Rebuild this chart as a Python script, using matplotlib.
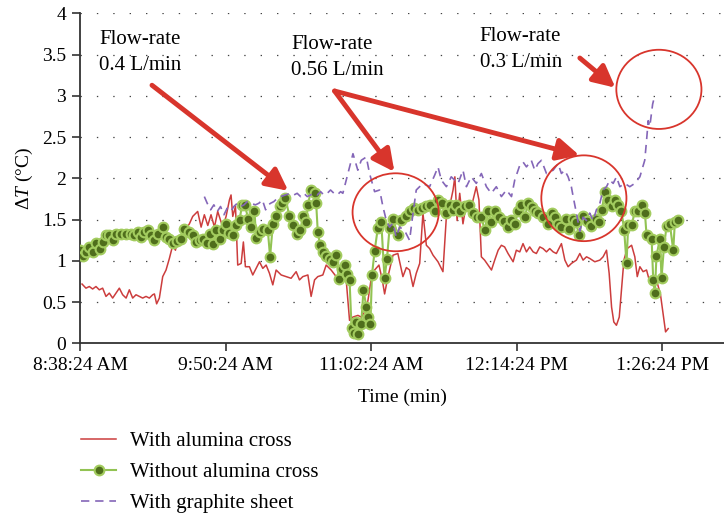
import matplotlib
matplotlib.use("Agg")
import matplotlib.pyplot as plt
from matplotlib.patches import Ellipse

# minutes after 8:38:24 AM
red_t = [1.0, 2.95, 4.6, 6.25, 7.9, 9.55, 11.2, 12.85, 14.5, 16.15, 17.8, 19.45, 21.1, 22.8,
         24.4, 26.05, 27.7, 29.35, 31.0, 32.65, 34.3, 35.95, 36.8, 37.9, 39.25, 40.9, 42.55,
         44.2, 45.85, 47.2, 48.3, 50.8, 54.1, 55.75, 58.2, 59.9, 61.5, 63.2, 64.8, 66.5, 68.1,
         70.6, 72.25, 73.9, 74.7, 75.55, 76.9, 78.0, 79.7, 80.8, 81.8, 83.8, 85.45, 87.1, 88.75,
         90.4, 92.05, 93.7, 95.35, 97.0, 99.5, 101.95, 104.4, 106.9, 108.55, 110.2, 112.7, 114.3,
         116.0, 117.6, 120.1, 121.75, 124.2, 126.7, 129.2, 131.65, 133.3, 135.0, 137.45, 139.1,
         140.75, 142.4, 144.05, 145.7, 147.85, 149.5, 150.65, 152.3, 154.8, 157.2, 159.7, 161.4,
         163.0, 164.7, 166.3, 168.0, 169.6, 171.3, 172.9, 174.6, 177.05, 179.5, 181.2, 182.8,
         184.5, 185.4, 186.5, 187.8, 189.4, 191.1, 192.7, 194.4, 196.0, 197.3, 198.5, 200.1,
         201.8, 203.5, 205.1, 206.8, 208.4, 210.0, 211.7, 214.2, 215.8, 217.5, 219.1, 220.8,
         222.4, 224.1, 225.7, 227.4, 229.0, 230.7, 232.3, 234.0, 235.6, 238.1, 239.8, 241.4,
         243.05, 245.5, 247.2, 248.8, 250.5, 252.1, 254.6, 257.1, 258.7, 260.4, 261.7, 262.9,
         264.0, 265.3, 266.7, 267.8, 269.0, 270.6, 272.8, 274.4, 275.6, 276.9, 278.5, 280.2,
         281.5, 283.2, 285.1, 287.1, 288.4, 289.6, 290.9]
red_v = [0.72, 0.67, 0.69, 0.66, 0.69, 0.65, 0.67, 0.57, 0.61, 0.55, 0.61, 0.67, 0.59, 0.55,
         0.65, 0.55, 0.59, 0.57, 0.55, 0.57, 0.55, 0.59, 0.60, 0.48, 0.55, 0.81, 0.89, 1.03,
         1.19, 1.13, 1.27, 1.33, 1.45, 1.54, 1.60, 1.41, 1.56, 1.43, 1.56, 1.41, 1.60, 1.41,
         1.54, 1.74, 1.80, 1.54, 1.66, 0.95, 0.97, 1.23, 0.93, 0.93, 0.83, 0.91, 0.99, 0.91,
         0.95, 0.85, 0.71, 0.89, 0.83, 0.81, 0.79, 0.87, 0.77, 0.81, 0.83, 0.57, 0.77, 0.81,
         0.83, 0.95, 0.89, 0.81, 0.81, 0.77, 0.28, 0.32, 0.34, 0.32, 0.38, 0.52, 0.79, 0.89,
         0.95, 0.77, 0.60, 0.81, 1.07, 1.09, 0.81, 0.92, 0.89, 0.69, 0.85, 0.97, 1.58, 1.19,
         1.15, 1.07, 0.99, 0.87, 1.54, 1.66, 1.86, 2.02, 1.49, 1.82, 1.45, 1.70, 1.54, 1.74,
         1.90, 1.74, 1.05, 1.01, 0.95, 0.89, 1.01, 1.13, 1.19, 1.17, 1.09, 0.99, 1.13, 1.11,
         1.21, 1.11, 1.17, 1.11, 1.09, 1.17, 1.15, 1.11, 1.15, 1.11, 1.09, 1.21, 1.01, 0.93,
         0.97, 1.01, 1.09, 1.01, 1.05, 1.03, 0.99, 1.01, 1.05, 1.13, 0.85, 0.44, 0.26, 0.22,
         0.32, 0.65, 1.01, 1.15, 1.19, 1.05, 0.81, 0.93, 0.87, 0.89, 0.77, 0.75, 0.77, 0.59,
         0.36, 0.14, 0.18]

green_t = [0.0, 1.3, 2.95, 4.6, 6.25, 7.9, 9.9, 11.2, 12.85, 14.5, 16.15, 17.8, 20.3, 22.8,
           25.2, 26.9, 28.5, 30.2, 31.8, 33.5, 35.1, 36.8, 38.4, 40.9, 42.6, 44.2, 45.9, 47.8,
           50.0, 51.6, 53.8, 55.8, 57.4, 59.4, 61.0, 62.7, 64.3, 65.7, 67.3, 69.0, 70.6, 72.3,
           73.9, 75.6, 77.2, 78.9, 80.2, 81.5, 83.2, 84.6, 86.3, 87.1, 88.8, 90.7, 92.9, 94.0,
           95.4, 97.0, 98.7, 100.0, 101.6, 103.6, 105.3, 107.2, 108.9, 110.5, 111.9, 112.7,
           114.3, 116.0, 116.8, 117.6, 118.8, 120.1, 121.8, 123.4, 125.1, 126.7, 128.0, 129.7,
           131.0, 132.0, 133.3, 134.3, 135.3, 136.3, 137.4, 139.1, 140.2, 141.6, 142.6, 143.6,
           144.4, 145.7, 147.3, 149.0, 150.6, 151.8, 153.1, 154.8, 157.2, 158.9, 161.0, 163.0,
           165.0, 167.1, 169.3, 171.3, 173.3, 175.4, 177.1, 179.2, 180.8, 182.8, 184.5, 186.1,
           188.1, 190.2, 192.4, 194.4, 196.4, 198.5, 200.2, 201.8, 203.4, 205.1, 207.2, 209.6,
           211.7, 213.4, 215.0, 216.7, 218.3, 220.0, 221.6, 223.3, 224.9, 226.6, 229.0, 231.5,
           233.2, 234.8, 236.5, 238.1, 240.2, 241.9, 243.6, 245.2, 246.9, 248.8, 250.5, 252.6,
           255.1, 256.8, 258.1, 259.6, 261.2, 262.9, 264.5, 266.2, 267.8, 269.1, 270.3, 271.1,
           272.8, 274.4, 276.1, 277.7, 279.4, 280.2, 282.7, 283.5, 284.3, 285.1, 286.8, 287.6,
           288.8, 290.1, 291.7, 293.4, 294.2, 295.9]
green_v = [1.13, 1.06, 1.11, 1.17, 1.11, 1.22, 1.15, 1.23, 1.31, 1.31, 1.25, 1.33, 1.33, 1.33,
           1.33, 1.31, 1.35, 1.29, 1.35, 1.37, 1.31, 1.25, 1.33, 1.41, 1.29, 1.26, 1.22, 1.24,
           1.27, 1.39, 1.35, 1.31, 1.23, 1.25, 1.27, 1.22, 1.33, 1.21, 1.38, 1.26, 1.37, 1.45,
           1.34, 1.31, 1.43, 1.50, 1.68, 1.68, 1.51, 1.41, 1.60, 1.28, 1.35, 1.39, 1.37, 1.05,
           1.45, 1.55, 1.66, 1.70, 1.76, 1.54, 1.43, 1.33, 1.37, 1.54, 1.47, 1.68,
           1.86, 1.82, 1.70, 1.35, 1.19, 1.11, 1.06, 1.02, 0.99, 1.07, 0.78, 0.90,
           0.95, 0.84, 0.77, 0.19, 0.13, 0.26, 0.11, 0.24, 0.65, 0.44, 0.32, 0.23,
           0.83, 1.12, 1.40, 1.47, 0.79, 1.02, 1.40, 1.51, 1.31, 1.50, 1.54, 1.60,
           1.64, 1.62, 1.64, 1.66, 1.68, 1.60, 1.74, 1.70, 1.58, 1.68, 1.62, 1.68,
           1.60, 1.66, 1.68, 1.58, 1.53, 1.53, 1.37, 1.60, 1.47, 1.60, 1.53, 1.49,
           1.41, 1.50, 1.45, 1.60, 1.68, 1.53, 1.70, 1.65, 1.60, 1.58, 1.53, 1.45,
           1.58, 1.53, 1.45, 1.41, 1.51, 1.39, 1.51, 1.47, 1.31, 1.55, 1.49, 1.42,
           1.51, 1.47, 1.62, 1.84, 1.74, 1.66, 1.74, 1.68, 1.60, 1.38, 0.97, 1.43,
           1.43, 1.60, 1.60, 1.68, 1.58, 1.31, 1.27, 0.77, 0.61, 1.06, 1.27, 0.79,
           1.17, 1.42, 1.45, 1.13, 1.47, 1.50]

purple_t = [61.5, 62.9, 64.6, 66.2, 67.9, 69.5, 71.2, 72.8, 74.5, 76.1, 77.8, 79.4, 81.1, 82.7,
            84.4, 86.8, 88.5, 90.2, 91.8, 93.1, 94.3, 95.9, 97.6, 99.2, 101.6, 104.1, 105.8,
            107.4, 109.1, 110.7, 112.4, 114.0, 115.7, 117.3, 119.0, 120.6, 122.3, 123.9, 125.6,
            127.2, 128.9, 130.0, 132.5, 135.0, 137.4, 139.1, 141.6, 143.2, 145.7, 148.2, 149.8,
            151.5, 153.1, 154.8, 156.4, 158.1, 160.5, 163.0, 164.7, 166.3, 169.6, 172.9, 175.4,
            177.05, 178.7, 181.2, 183.6, 187.0, 189.4, 191.1, 193.5, 196.0, 198.5, 201.0, 203.4,
            205.9, 208.4, 210.9, 213.4, 215.0, 217.5, 219.1, 220.8, 223.2, 224.9, 226.5, 228.2,
            230.7, 234.0, 236.4, 238.1, 239.7, 241.4, 243.0, 243.9, 245.5, 247.2, 248.8, 250.5,
            252.1, 253.8, 255.4, 257.1, 258.7, 260.4, 262.0, 263.7, 265.3, 267.0, 269.4, 271.9,
            274.4, 276.9, 279.3, 280.2, 281.0, 281.8, 283.2, 284.3]
purple_v = [1.78, 1.70, 1.62, 1.68, 1.60, 1.66, 1.56, 1.64, 1.60, 1.66, 1.70, 1.66, 1.68, 1.72,
            1.70, 1.68, 1.70, 1.74, 1.62, 1.68, 1.70, 1.72, 1.76, 1.78, 1.80, 1.82, 1.80, 1.82,
            1.78, 1.82, 1.78, 1.80, 1.82, 1.80, 1.84, 1.80, 1.82, 1.86, 1.82, 1.80, 1.84, 1.82,
            2.06, 2.30, 2.10, 2.22, 2.26, 2.06, 1.84, 1.86, 1.66, 1.49, 1.41, 1.46, 1.29, 1.41,
            1.37, 1.25, 1.58, 1.86, 1.94, 1.90, 2.04, 2.14, 1.98, 1.90, 2.02, 1.94, 2.10, 1.90,
            2.02, 1.94, 2.06, 1.90, 1.82, 1.90, 1.78, 1.86, 1.78, 1.98, 2.16, 2.20, 2.14, 2.22,
            2.10, 2.18, 2.22, 2.06, 2.10, 2.18, 2.06, 2.10, 2.02, 1.90, 1.78, 1.58, 1.36, 1.53,
            1.49, 1.58, 1.49, 1.62, 1.70, 1.86, 1.90, 1.98, 1.94, 2.02, 1.90, 1.94, 1.90, 1.94,
            2.02, 2.22, 2.46, 2.70, 2.63, 2.90, 3.01]

x_ticks = [0, 72, 144, 216, 288]
x_labels = ["8:38:24 AM", "9:50:24 AM", "11:02:24 AM", "12:14:24 PM", "1:26:24 PM"]
y_ticks = [0, 0.5, 1, 1.5, 2, 2.5, 3, 3.5, 4]
y_labels = ["0", "0.5", "1", "1.5", "2", "2.5", "3", "3.5", "4"]

plt.rcParams["font.family"] = ["Liberation Serif", "DejaVu Serif"]
plt.rcParams["mathtext.fontset"] = "custom"
plt.rcParams["mathtext.it"] = "Liberation Serif:italic"
plt.rcParams["mathtext.rm"] = "Liberation Serif"

RED = "#d8352c"
fig = plt.figure(figsize=(7.24, 5.18), dpi=100)
ax = fig.add_axes([0.1105, 0.337, 0.8895, 0.637])

for y in y_ticks[1:]:
    ax.axhline(y, color="#444444", lw=0.9, linestyle=(0, (1.1, 12)), zorder=0)

l1, = ax.plot(red_t, red_v, color="#cc3d3d", lw=1.1, label="With alumina cross", zorder=2)
l2, = ax.plot(green_t, green_v, color="#92c353", lw=1.5, marker="o", ms=7,
              mfc="#4f6e1c", mec="#a3cc5f", mew=1.5, label="Without alumina cross", zorder=3)
l3, = ax.plot(purple_t, purple_v, color="#8466b8", lw=1.2, dashes=(5, 3.5),
              label="With graphite sheet", zorder=4)

ax.set_xlim(0, 318.5)
ax.set_ylim(0, 4)
ax.set_xticks(x_ticks)
ax.set_xticklabels(x_labels)
ax.set_yticks(y_ticks)
ax.set_yticklabels(y_labels)
ax.tick_params(labelsize=14, color="#333333", length=6, width=1.2, pad=4)
for s in ["top", "right"]:
    ax.spines[s].set_visible(False)
for s in ["left", "bottom"]:
    ax.spines[s].set_color("#333333")
    ax.spines[s].set_linewidth(1.3)
ax.set_xlabel("Time (min)", fontsize=14, labelpad=10)
ax.set_ylabel(r"$\Delta T$ (°C)", fontsize=14, labelpad=5)

# annotations
ax.text(9.5, 3.8, "Flow-rate\n0.4 L/min", fontsize=15, va="top", ha="left", linespacing=1.5)
ax.text(104.5, 3.74, "Flow-rate\n0.56 L/min", fontsize=15, va="top", ha="left", linespacing=1.5)
ax.text(197.7, 3.84, "Flow-rate\n0.3 L/min", fontsize=15, va="top", ha="left", linespacing=1.5)

arrow = dict(arrowstyle="-|>,head_length=0.6,head_width=0.3", color=RED, lw=3.5,
             mutation_scale=22, shrinkA=0, shrinkB=0)
ax.annotate("", xy=(103.0, 1.85), xytext=(35.6, 3.13), arrowprops=arrow)
ax.annotate("", xy=(155.5, 2.08), xytext=(125.9, 3.06), arrowprops=arrow)
ax.annotate("", xy=(247.0, 2.28), xytext=(125.9, 3.06), arrowprops=arrow)
ax.annotate("", xy=(264.8, 3.1), xytext=(247.2, 3.46), arrowprops=arrow)

for cx, cy, w, h in [(156.1, 1.59, 42.6, 0.945), (249.2, 1.76, 42.1, 1.04), (286.3, 3.08, 42.1, 0.96)]:
    ax.add_patch(Ellipse((cx, cy), w, h, fill=False, ec=RED, lw=1.3, zorder=5))

fig.legend(handles=[l1, l2, l3], loc="upper left", bbox_to_anchor=(0.086, 0.203),
           frameon=False, fontsize=15, handlelength=1.7, handletextpad=0.65, labelspacing=0.55)

fig.savefig("out.png", dpi=100)
